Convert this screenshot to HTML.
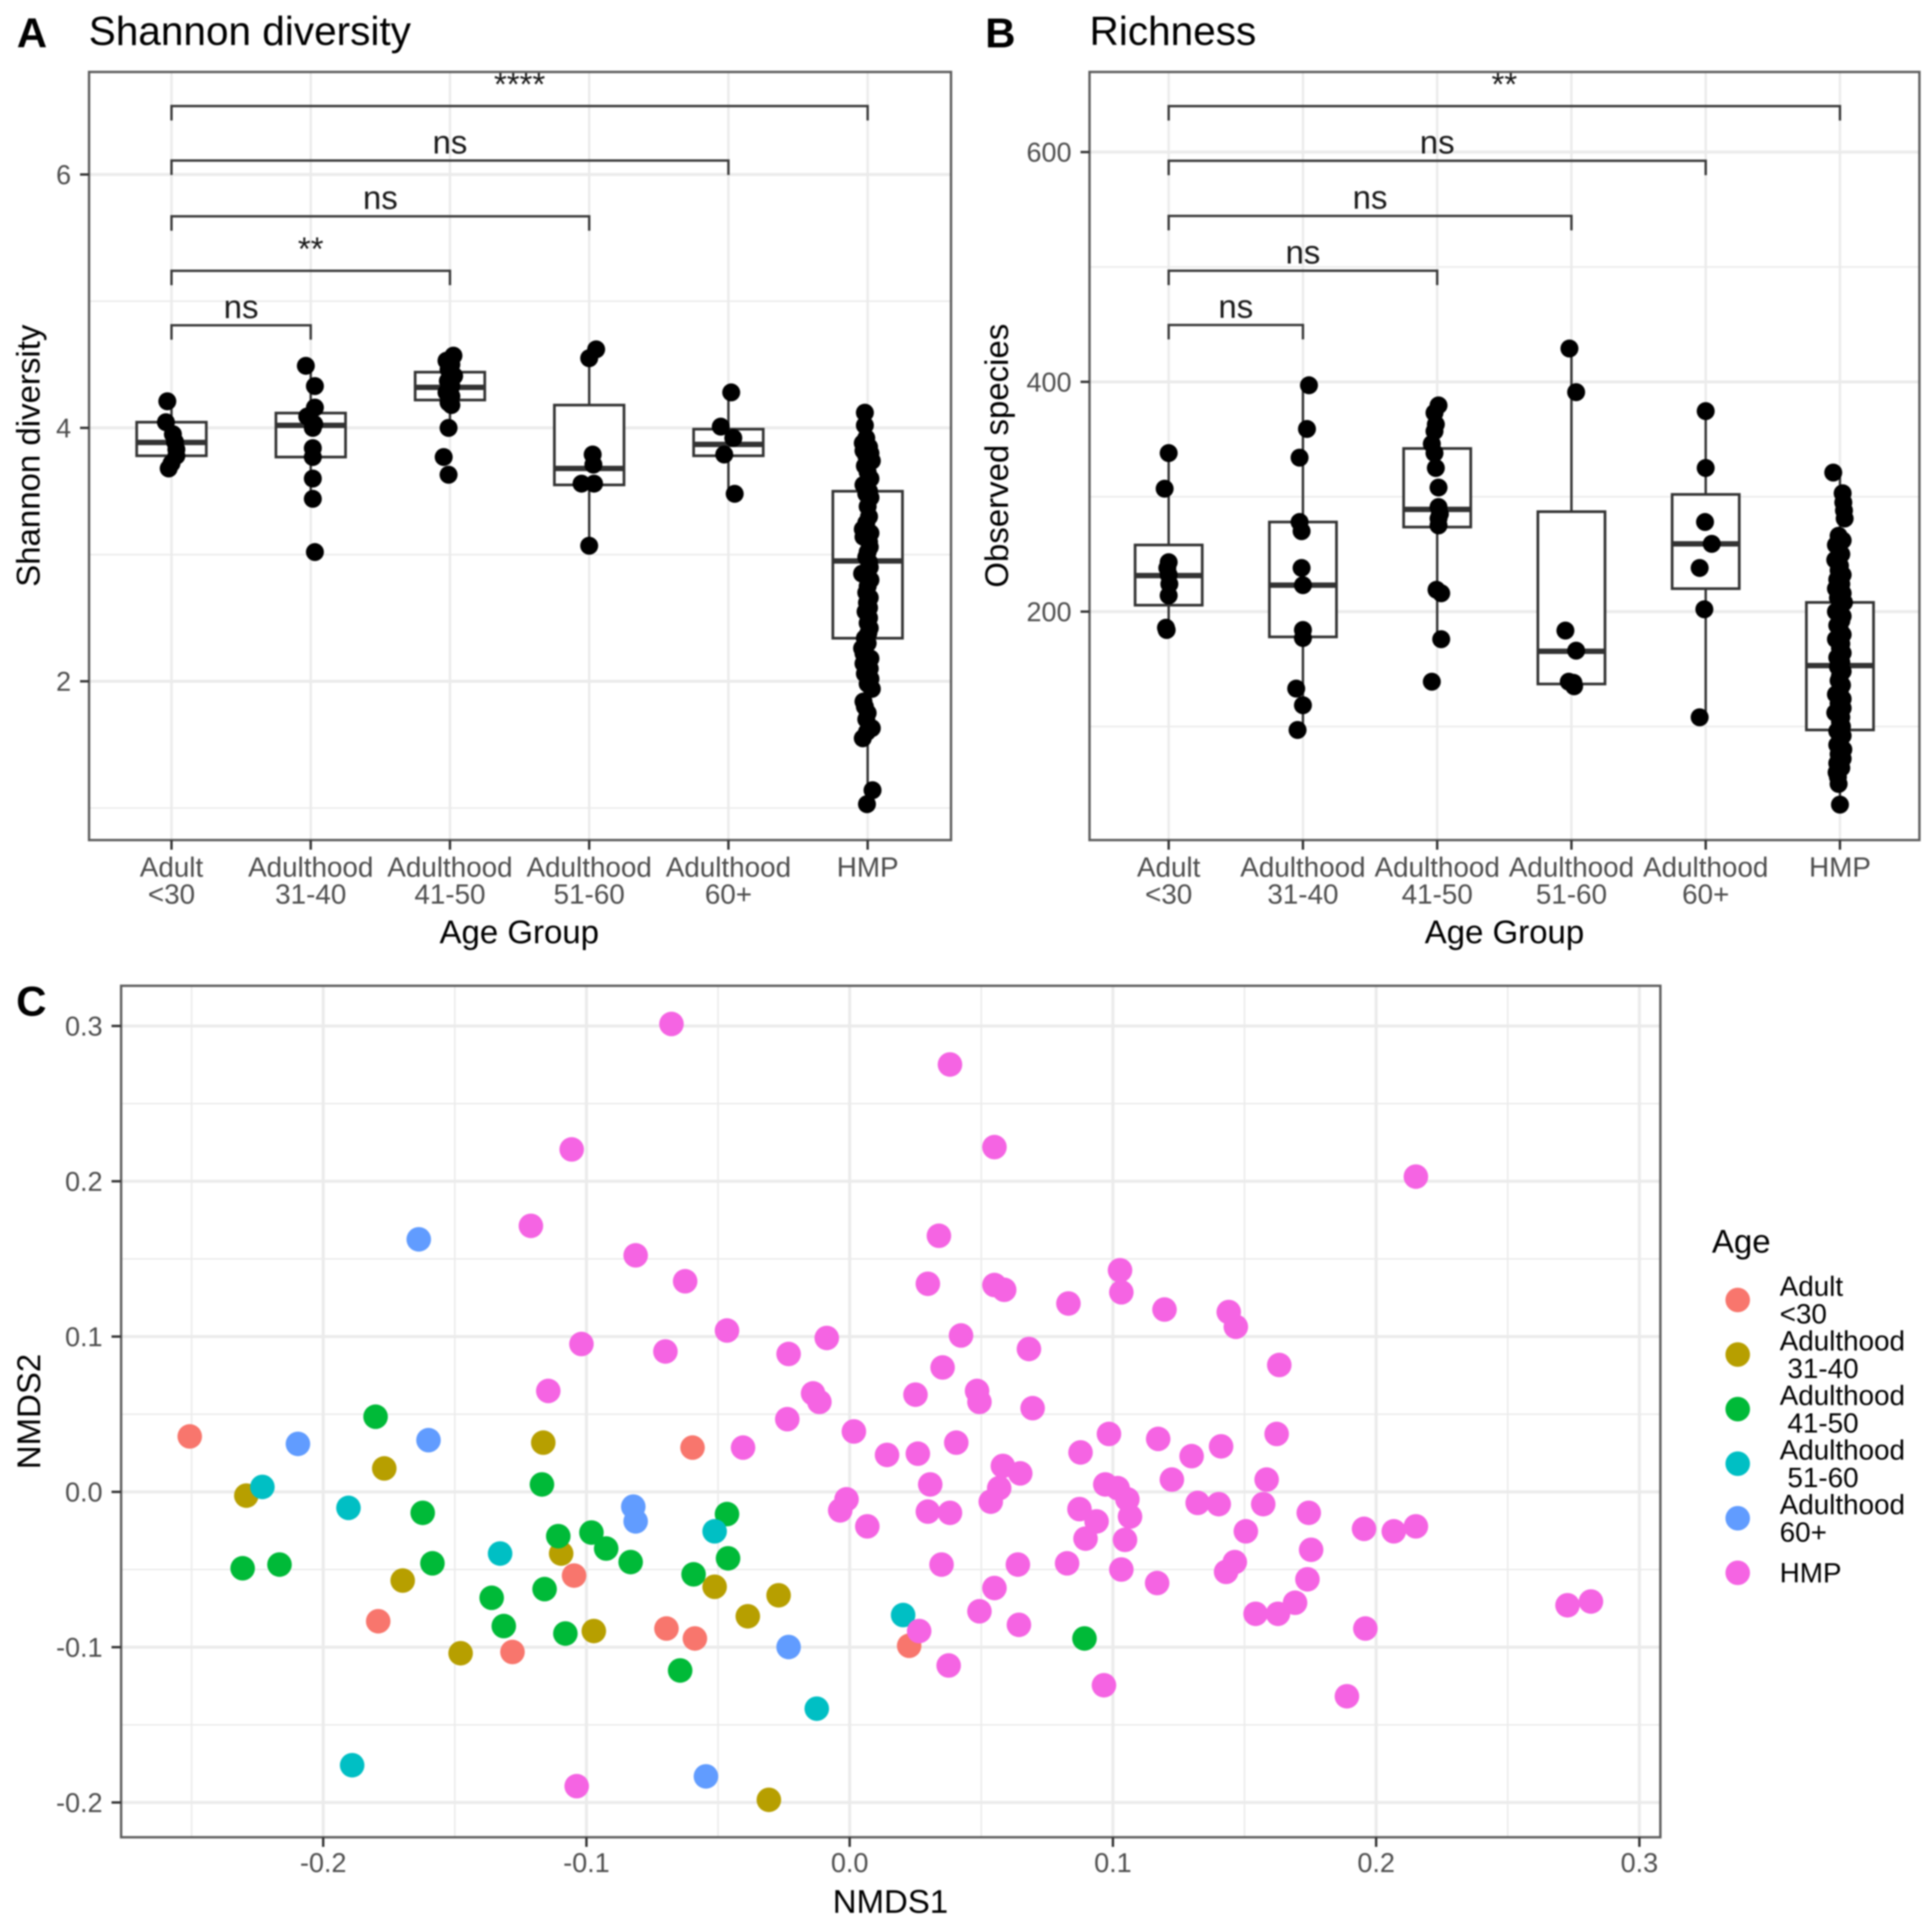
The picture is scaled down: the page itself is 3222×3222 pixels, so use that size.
<!DOCTYPE html>
<html lang="en">
<head>
<meta charset="utf-8">
<title>Shannon diversity, richness and NMDS by age group</title>
<style>
html,body{margin:0;padding:0;background:#fff;width:3222px;height:3222px;overflow:hidden}
svg{display:block;filter:blur(1.3px)}
text{font-family:"Liberation Sans",sans-serif;white-space:pre}
</style>
</head>
<body>
<svg id="figure" xmlns="http://www.w3.org/2000/svg" width="3222" height="3222" viewBox="0 0 3222 3222">
  <rect x="0" y="0" width="3222" height="3222" fill="#fff"/>
  <g id="panelA"></g>
  <g id="panelB"></g>
  <g id="panelC"></g>
  <text x="28" y="79" font-size="70" font-weight="bold" fill="#000">A</text>
  <text x="1643" y="79" font-size="70" font-weight="bold" fill="#000">B</text>
  <text x="27" y="1694" font-size="70" font-weight="bold" fill="#000">C</text>
  <text x="148" y="75" font-size="67.6" fill="#000">Shannon diversity</text>
  <text x="1817" y="75" font-size="67.6" fill="#000">Richness</text>
  <text transform="translate(66,760) rotate(-90)" text-anchor="middle" font-size="55" fill="#000">Shannon diversity</text>
  <text transform="translate(1681,760) rotate(-90)" text-anchor="middle" font-size="55" fill="#000">Observed species</text>
  <text x="866" y="1573" text-anchor="middle" font-size="55" fill="#000">Age Group</text>
  <text x="2509" y="1573" text-anchor="middle" font-size="55" fill="#000">Age Group</text>
  <text x="1485" y="3190" text-anchor="middle" font-size="55" fill="#000">NMDS1</text>
  <text transform="translate(67,2354) rotate(-90)" text-anchor="middle" font-size="55" fill="#000">NMDS2</text>
  <g id="legend">
    <text x="2855" y="2089" font-size="55" fill="#000">Age</text>
  </g>
</svg>
<script>
// ---------- shared categories ----------
const catLine1 = ["Adult", "Adulthood", "Adulthood", "Adulthood", "Adulthood", "HMP"];
const catLine2 = ["<30", "31-40", "41-50", "51-60", "60+", ""];
const bracketTargets = [1, 2, 3, 4, 5];

// ---------- panel A: Shannon ----------
const shannonTicks = [2, 4, 6];
const shannonMinorTicks = [1, 3, 5];
const shannonQ1 = [3.78, 3.77, 4.22, 3.55, 3.78, 2.34];
const shannonMedian = [3.885, 4.02, 4.32, 3.68, 3.87, 2.95];
const shannonQ3 = [4.045, 4.117, 4.44, 4.18, 3.99, 3.5];
const shannonWhiskerLow = [3.68, 3.44, 3.99, 3.07, 3.49, 1.03];
const shannonWhiskerHigh = [4.21, 4.49, 4.57, 4.62, 4.28, 4.12];
const shannonValues0 = [4.21, 4.045, 3.95, 3.89, 3.83, 3.78, 3.72, 3.68];
const shannonJitter0 = [-.03, -.04, .01, .025, .035, .035, 0, -.02];
const shannonValues1 = [4.49, 4.33, 4.16, 4.09, 4.03, 4.0, 3.84, 3.77, 3.6, 3.44, 3.02];
const shannonJitter1 = [-.035, .03, .03, -.025, .025, .015, .015, .015, .015, .015, .03];
const shannonValues2 = [4.57, 4.53, 4.5, 4.46, 4.41, 4.37, 4.33, 4.28, 4.25, 4.2, 4.18, 4.0, 3.77, 3.63];
const shannonJitter2 = [.025, -.025, .01, -.01, .03, -.015, .01, -.025, .01, -.01, .01, -.01, -.045, -.01];
const shannonValues3 = [4.62, 4.55, 3.79, 3.71, 3.56, 3.56, 3.07];
const shannonJitter3 = [.05, 0, .025, .03, -.055, .035, 0];
const shannonValues4 = [4.28, 4.01, 3.92, 3.79, 3.48];
const shannonJitter4 = [.02, -.055, .035, -.03, .045];
const shannonValues5 = [4.12, 4.02, 3.92, 3.88, 3.85, 3.82, 3.80, 3.78, 3.74, 3.70,
  3.65, 3.6, 3.55, 3.5, 3.48, 3.45, 3.38, 3.3, 3.25, 3.2,
  3.17, 3.14, 3.1, 3.06, 3.02, 2.98, 2.94, 2.9, 2.85, 2.8,
  2.75, 2.7, 2.66, 2.62, 2.58, 2.55, 2.5, 2.46, 2.42, 2.38,
  2.34, 2.3, 2.26, 2.22, 2.18, 2.14, 2.1, 2.06, 2.02, 1.98,
  1.94, 1.84, 1.8, 1.75, 1.7, 1.63, 1.6, 1.55, 1.14, 1.03];
const shannonJitter5 = [-.02, -.02, -.01, -.035, .01, -.03, .02, -.01, .03, -.02,
  0, .02, -.03, .01, -.01, .02, 0, .01, -.01, -.035,
  .02, -.03, .01, .015, 0, -.01, .01, .015, -.04, .02,
  0, -.01, .015, -.005, .01, -.015, .01, 0, .015, .005,
  -.02, 0, -.04, -.03, .02, -.03, .015, -.02, .02, 0,
  .03, -.03, -.02, 0, -.01, .03, -.005, -.035, .035, -.005];
const shannonBracketValues = [4.81, 5.24, 5.67, 6.11, 6.54];
const shannonBracketLabels = ["ns", "**", "ns", "ns", "****"];

// ---------- panel B: Richness ----------
const richnessTicks = [200, 400, 600];
const richnessMinorTicks = [100, 300, 500];
const richnessQ1 = [205.6, 178, 273.6, 137, 220, 97];
const richnessMedian = [231.4, 223, 289, 165.5, 259, 153];
const richnessQ3 = [258, 278, 342, 287, 302, 208];
const richnessWhiskerLow = [184, 97, 176, 135, 108, 32];
const richnessWhiskerHigh = [338, 397, 380, 429, 375, 321];
const richnessValues0 = [338, 307, 243, 238, 232, 224, 214, 186, 184];
const richnessJitter0 = [0, -.03, 0, -.01, 0, .005, 0, -.02, -.015];
const richnessValues1 = [397, 359, 334, 278, 270, 238, 223, 184, 177, 133, 118.5, 97];
const richnessJitter1 = [.045, .03, -.025, -.025, -.01, -.01, 0, 0, 0, -.05, 0, -.04];
const richnessValues2 = [379.5, 373, 363, 357, 346, 338, 325, 308, 291, 285, 281, 275, 219, 216, 176, 139];
const richnessJitter2 = [.01, -.02, -.01, -.02, -.04, -.02, -.01, .01, .01, .02, .01, .01, -.005, .03, .03, -.04];
const richnessValues3 = [429, 391, 183.5, 166, 139, 138, 135];
const richnessJitter3 = [-.015, .035, -.045, .035, -.02, .015, .02];
const richnessValues4 = [374.5, 325, 278, 259, 238, 202, 108];
const richnessJitter4 = [0, 0, -.005, .045, -.045, -.01, -.045];
const richnessValues5 = [321, 303, 295, 288, 281, 266, 262, 258, 250, 245,
  240, 236, 232, 228, 224, 220, 216, 212, 208, 204,
  200, 196, 192, 188, 184, 180, 176, 172, 168, 164,
  160, 156, 152, 148, 144, 140, 136, 132, 128, 124,
  120, 116, 112, 108, 104, 100, 96, 92, 88, 84,
  80, 76, 72, 68, 64, 60, 56, 50, 32];
const richnessJitter5 = [-.05, .02, .025, .03, .035, -.01, .02, -.03, .01, -.035,
  0, -.01, .02, -.02, .01, -.03, .02, -.015, .03, 0,
  -.03, .02, .01, -.02, 0, .02, -.03, .01, 0, .02,
  -.02, .01, -.015, .02, 0, -.01, .015, 0, -.03, .02,
  -.01, .02, -.035, .01, 0, .015, -.02, .02, 0, -.02,
  .025, -.01, .02, -.02, .01, -.025, -.015, -.01, 0];
const richnessBracketValues = [449.5, 496.7, 544.4, 592.4, 640];
const richnessBracketLabels = ["ns", "ns", "ns", "ns", "**"];

// ---------- panel C: NMDS ----------
const nmdsXTicks = [-0.2, -0.1, 0, 0.1, 0.2, 0.3];
const nmdsYTicks = [-0.2, -0.1, 0, 0.1, 0.2, 0.3];
const nmdsXMinor = [-0.25, -0.15, -0.05, 0.05, 0.15, 0.25];
const nmdsYMinor = [-0.15, -0.05, 0.05, 0.15, 0.25];
const legendLine1 = ["Adult", "Adulthood", "Adulthood", "Adulthood", "Adulthood", "HMP"];
const legendLine2 = ["<30", " 31-40", " 41-50", " 51-60", "60+", ""];
const ageColors = ["#F8766D", "#B79F00", "#00BA38", "#00BFC4", "#619CFF", "#F564E3"];
const adultX = [-.2507, -.0597, -.1047, -.1791, -.1281, -.0696, -.0588, .0226];
const adultY = [.0357, .0285, -.0539, -.0833, -.1031, -.0880, -.0944, -.0991];
const age31X = [-.1164, -.1768, -.2292, -.1096, -.1698, -.0513, -.0387, -.0270, -.0972, -.1478, -.0307];
const age31Y = [.0317, .0151, -.0024, -.0397, -.0571, -.0611, -.0801, -.0666, -.0896, -.1039, -.1983];
const age41X = [-.1801, -.1169, -.1622, -.2306, -.2166, -.1585, -.1107, -.0981, -.0925, -.0832, -.0466, -.0462, -.0593, -.1159, -.1360, -.1314, -.1080, -.0644, .0892];
const age41Y = [.0484, .0048, -.0135, -.0492, -.0468, -.0460, -.0285, -.0262, -.0365, -.0452, -.0143, -.0428, -.0531, -.0626, -.0682, -.0864, -.0912, -.1150, -.0944];
const age51X = [-.2231, -.1904, -.1328, -.0513, .0203, -.0125, -.1890];
const age51Y = [.0032, -.0103, -.0397, -.0254, -.0793, -.1396, -.1760];
const age60X = [-.1637, -.2096, -.1600, -.0822, -.0813, -.0232, -.0546];
const age60Y = [.1626, .0309, .0333, -.0095, -.0190, -.0999, -.1832];
const hmpX = [-.0677, .0381, .0550, .2151, -.1056, -.1211, -.0813, -.0625, .0339, .0297,
  .0550, .0587, .1027, .1032, .0831, .1196, .1440, .1467, .1632, -.0466,
  -.1019, -.0700, -.0232, -.0087, .0423, .0681, .0353, -.1145, -.0139, -.0115,
  -.0237, .0250, .0484, .0493, .0695, .0016, -.0405, .0142, .0259, .0405,
  .0582, .0648, .0306, .0568, .0536, .0877, .0985, .1172, .1299, .1411,
  .1622, .1584, .1224, .0971, .1018, .1055, .1065, .1322, .1402, .1571,
  .1744, .1505, .1753, .1954, .2067, .2151, -.0012, -.0036, .0067, .0297,
  .0381, .0873, .0938, .0896, .1046, .0349, .0639, .0826, .1032, .1168,
  .1430, .1463, .1739, .1692, .1627, .1542, .0550, .0493, .0643, .0264,
  .0376, .0966, .1889, .1959, .2727, .2816, -.1037];
const hmpY = [.3013, .2752, .2220, .2030, .2205, .1713, .1523, .1356, .1649, .1340,
  .1332, .1301, .1427, .1285, .1213, .1174, .1158, .1063, .0817, .1039,
  .0952, .0904, .0888, .0991, .1007, .0920, .0801, .0650, .0634, .0579,
  .0468, .0626, .0650, .0579, .0539, .0389, .0285, .0238, .0246, .0317,
  .0167, .0119, .0048, .0024, -.0063, .0254, .0373, .0341, .0230, .0293,
  .0373, .0079, .0079, .0048, .0024, -.0048, -.0159, -.0071, -.0079, -.0079,
  -.0135, -.0254, -.0373, -.0238, -.0254, -.0222, -.0048, -.0119, -.0222, -.0127,
  -.0135, -.0111, -.0190, -.0301, -.0309, -.0468, -.0468, -.0460, -.0500, -.0587,
  -.0515, -.0452, -.0563, -.0714, -.0785, -.0785, -.0619, -.0769, -.0856, -.0896,
  -.1118, -.1245, -.1316, -.0880, -.0730, -.0706, -.1895];

// ---------- drawing helpers ----------
const SVGNS = "http://www.w3.org/2000/svg";
function make(tag, parent, attrs) {
  const node = document.createElementNS(SVGNS, tag);
  for (const key in attrs) node.setAttribute(key, attrs[key]);
  parent.appendChild(node);
  return node;
}
const GRID = "#ebebeb", TICK = "#333333", BORDER = "#5f5f5f", LABEL = "#4d4d4d";

function drawBoxPanel(root, cfg) {
  const xS = i => cfg.x0 + cfg.step * i;
  const yS = cfg.yScale;
  // minor grid
  cfg.minor.forEach(v => {
    const g = make("line", root, {x1: cfg.left, x2: cfg.right, y1: yS(v), y2: yS(v), stroke: GRID, "stroke-width": 2.6});
    
    
  });
  // major grid
  cfg.ticks.forEach(v => {
    const g = make("line", root, {x1: cfg.left, x2: cfg.right, y1: yS(v), y2: yS(v), stroke: GRID, "stroke-width": 5});
    
    
  });
  catLine1.forEach((_, i) => {
    const g = make("line", root, {x1: xS(i), x2: xS(i), y1: cfg.top, y2: cfg.bottom, stroke: GRID, "stroke-width": 4});
    
    
  });
  // boxes
  const halfBox = cfg.step * 0.25;
  cfg.q1.forEach((_, i) => {
    const cx = xS(i);
    const wh = make("line", root, {x1: cx, x2: cx, y1: yS(cfg.whiskerHigh[i]), y2: yS(cfg.q3[i]), stroke: TICK, "stroke-width": 4});
    
    
    const wl = make("line", root, {x1: cx, x2: cx, y1: yS(cfg.q1[i]), y2: yS(cfg.whiskerLow[i]), stroke: TICK, "stroke-width": 4});
    
    
    const box = make("rect", root, {x: cx - halfBox, width: 2 * halfBox, y: yS(cfg.q3[i]), height: yS(cfg.q1[i]) - yS(cfg.q3[i]), fill: "#fff", stroke: TICK, "stroke-width": 4.5});
    
    
    const med = make("line", root, {x1: cx - halfBox, x2: cx + halfBox, y1: yS(cfg.median[i]), y2: yS(cfg.median[i]), stroke: TICK, "stroke-width": 9});
    
    
  });
  // jittered points
  cfg.values.forEach((series, i) => {
    series.forEach((v, k) => {
      const dot = make("circle", root, {cx: xS(i) + cfg.jitter[i][k] * cfg.step, cy: yS(v), r: 15, fill: "#000"});
      
      
    });
  });
  // brackets
  bracketTargets.forEach((target, k) => {
    const yv = yS(cfg.bracketValues[k]);
    const xa = xS(0), xb = xS(target);
    const br = make("path", root, {d: `M${xa} ${yv + 24}V${yv}H${xb}V${yv + 24}`, fill: "none", stroke: "#3a3a3a", "stroke-width": 4});
    
    
    const isStars = cfg.bracketLabels[k].charAt(0) === "*";
    const lab = make("text", root, {x: (xa + xb) / 2, y: yv - (isStars ? 18 : 12), "text-anchor": "middle", "font-size": 55, fill: "#1a1a1a"});
    lab.textContent = cfg.bracketLabels[k];
    
    
  });
  // border
  const frame = make("rect", root, {x: cfg.left, y: cfg.top, width: cfg.right - cfg.left, height: cfg.bottom - cfg.top, fill: "none", stroke: BORDER, "stroke-width": 4});
  
  
  // y ticks
  cfg.ticks.forEach(v => {
    const t = make("line", root, {x1: cfg.left - 15, x2: cfg.left, y1: yS(v), y2: yS(v), stroke: TICK, "stroke-width": 4});
    
    
    const l = make("text", root, {x: cfg.left - 30, y: yS(v) + 16, "text-anchor": "end", "font-size": 45, fill: LABEL});
    l.textContent = String(v);
    
    
  });
  // x ticks
  catLine1.forEach((name, i) => {
    const t = make("line", root, {x1: xS(i), x2: xS(i), y1: cfg.bottom, y2: cfg.bottom + 16, stroke: TICK, "stroke-width": 4});
    
    
    const l = make("text", root, {"text-anchor": "middle", "font-size": 46.4, fill: LABEL});
    
    
    const a = make("tspan", l, {x: xS(i), y: 1462});
    a.textContent = name;
    const b = make("tspan", l, {x: xS(i), y: 1507});
    b.textContent = catLine2[i];
  });
}

drawBoxPanel(document.getElementById("panelA"), {
  left: 148.5, right: 1586, top: 120, bottom: 1401, x0: 286, step: 232.2,
  yScale: v => 291 + (6 - v) * 211.3,
  ticks: shannonTicks, minor: shannonMinorTicks,
  q1: shannonQ1, median: shannonMedian, q3: shannonQ3,
  whiskerLow: shannonWhiskerLow, whiskerHigh: shannonWhiskerHigh,
  values: [shannonValues0, shannonValues1, shannonValues2, shannonValues3, shannonValues4, shannonValues5],
  jitter: [shannonJitter0, shannonJitter1, shannonJitter2, shannonJitter3, shannonJitter4, shannonJitter5],
  bracketValues: shannonBracketValues, bracketLabels: shannonBracketLabels
});
drawBoxPanel(document.getElementById("panelB"), {
  left: 1817, right: 3201, top: 120, bottom: 1401, x0: 1949, step: 223.9,
  yScale: v => 253.6 + (600 - v) * 1.916,
  ticks: richnessTicks, minor: richnessMinorTicks,
  q1: richnessQ1, median: richnessMedian, q3: richnessQ3,
  whiskerLow: richnessWhiskerLow, whiskerHigh: richnessWhiskerHigh,
  values: [richnessValues0, richnessValues1, richnessValues2, richnessValues3, richnessValues4, richnessValues5],
  jitter: [richnessJitter0, richnessJitter1, richnessJitter2, richnessJitter3, richnessJitter4, richnessJitter5],
  bracketValues: richnessBracketValues, bracketLabels: richnessBracketLabels
});

// ---------- panel C ----------
(function () {
  const root = document.getElementById("panelC");
  const L = 202, R = 2769, T = 1644, B = 3064;
  const xS = v => 1417 + 4390 * v;
  const yS = v => 2488 - 2590 * v;
  nmdsYMinor.forEach(v => {
    const g = make("line", root, {x1: L, x2: R, y1: yS(v), y2: yS(v), stroke: GRID, "stroke-width": 2.6});
    
    
  });
  nmdsXMinor.forEach(v => {
    const g = make("line", root, {x1: xS(v), x2: xS(v), y1: T, y2: B, stroke: GRID, "stroke-width": 2.6});
    
    
  });
  nmdsYTicks.forEach(v => {
    const g = make("line", root, {x1: L, x2: R, y1: yS(v), y2: yS(v), stroke: GRID, "stroke-width": 5});
    
    
  });
  nmdsXTicks.forEach(v => {
    const g = make("line", root, {x1: xS(v), x2: xS(v), y1: T, y2: B, stroke: GRID, "stroke-width": 5});
    
    
  });
  const groupsX = [adultX, age31X, age41X, age51X, age60X, hmpX];
  const groupsY = [adultY, age31Y, age41Y, age51Y, age60Y, hmpY];
  groupsX.forEach((xs, g) => {
    xs.forEach((x, k) => {
      const dot = make("circle", root, {cx: xS(x), cy: yS(groupsY[g][k]), r: 20.5, fill: ageColors[g]});
      
      
    });
  });
  const frame = make("rect", root, {x: L, y: T, width: R - L, height: B - T, fill: "none", stroke: BORDER, "stroke-width": 4});
  
  
  nmdsYTicks.forEach(v => {
    const t = make("line", root, {x1: L - 16, x2: L, y1: yS(v), y2: yS(v), stroke: TICK, "stroke-width": 4});
    
    
    const l = make("text", root, {x: 171, y: yS(v) + 16, "text-anchor": "end", "font-size": 45, fill: LABEL});
    l.textContent = v.toFixed(1);
    
    
  });
  nmdsXTicks.forEach(v => {
    const t = make("line", root, {x1: xS(v), x2: xS(v), y1: B, y2: B + 16, stroke: TICK, "stroke-width": 4});
    
    
    const l = make("text", root, {x: xS(v), y: 3122, "text-anchor": "middle", "font-size": 45, fill: LABEL});
    l.textContent = v.toFixed(1);
    
    
  });
  // legend
  const legend = document.getElementById("legend");
  ageColors.forEach((color, i) => {
    const cy = 2168 + 91 * i;
    const key = make("circle", legend, {cx: 2898, cy: cy, r: 20.5, fill: color});
    
    
    const label = make("text", legend, {"font-size": 46.4, fill: "#000"});
    
    
    if (legendLine2[i]) {
      const a = make("tspan", label, {x: 2968, y: cy - 7});
      a.textContent = legendLine1[i];
      const b = make("tspan", label, {x: 2968, y: cy + 39});
      b.textContent = legendLine2[i];
    } else {
      const a = make("tspan", label, {x: 2968, y: cy + 16});
      a.textContent = legendLine1[i];
    }
  });
})();
</script>
</body>
</html>
